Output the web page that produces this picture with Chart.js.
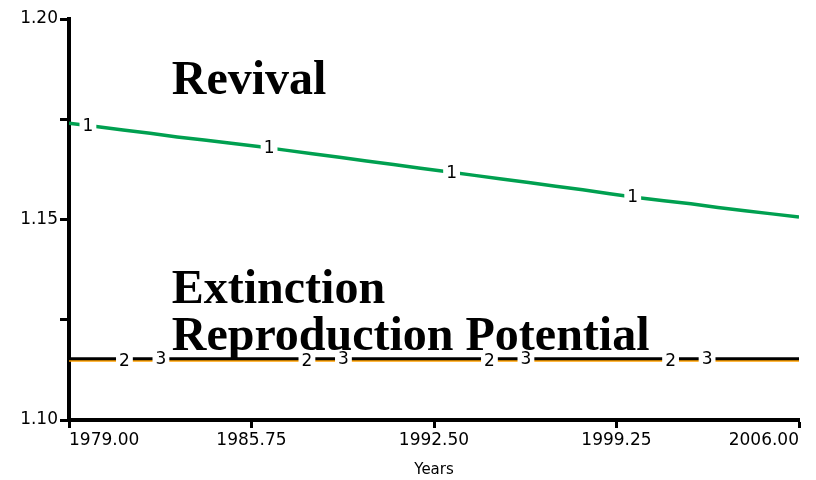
<!DOCTYPE html>
<html>
<head>
<meta charset="utf-8">
<script src="https://cdn.jsdelivr.net/npm/chart.js@4"></script>
<style>
    html, body { margin: 0; padding: 0; background: #fff; }
    #wrap { width: 816px; height: 480px; }
</style>
</head>
<body>
<div id="wrap"><canvas id="chart" width="816" height="480"></canvas></div>
<script>
// 年（x軸）
const years = [1979, 1980, 1981, 1982, 1983, 1984, 1985, 1986, 1987, 1988, 1989, 1990, 1991, 1992,
    1993, 1994, 1995, 1996, 1997, 1998, 1999, 2000, 2001, 2002, 2003, 2004, 2005, 2006];

// 1: Revival
const revival = [1.1740, 1.1732, 1.1723, 1.1715, 1.1706, 1.1698, 1.1690, 1.1682, 1.1673, 1.1664,
    1.1655, 1.1646, 1.1637, 1.1628, 1.1619, 1.1610, 1.1601, 1.1592, 1.1583, 1.1574,
    1.1564, 1.1555, 1.1547, 1.1539, 1.1530, 1.1522, 1.1514, 1.1506];
// 2: Extinction
const extinction = years.map(() => 1.1149);
// 3: Reproduction Potential
const reproduction = years.map(() => 1.1153);

// 線上の番号ラベルの位置（年）
const label1Years = [1979.7, 1986.4, 1993.15, 1999.85];
const label2Years = [1981.05, 1987.8, 1994.55, 2001.25];
const label3Years = [1982.4, 1989.15, 1995.9, 2002.6];

// 軸の目盛
const xTicks = [1979, 1985.75, 1992.5, 1999.25, 2006];
const yTicks = [1.10, 1.125, 1.15, 1.175, 1.20];
const yLabeled = [1.10, 1.15, 1.20];

// 注釈テキスト（データ座標）
const notes = [
    { text: 'Revival', x: 1982.8, y: 1.1813 },
    { text: 'Extinction', x: 1982.8, y: 1.1292 },
    { text: 'Reproduction Potential', x: 1982.8, y: 1.1175 }
];

const toPoints = arr => arr.map((v, i) => ({ x: years[i], y: v }));

function valueAt(data, x) {
    for (let i = 0; i < data.length - 1; i++) {
        if (x >= data[i].x && x <= data[i + 1].x) {
            const t = (x - data[i].x) / (data[i + 1].x - data[i].x);
            return data[i].y + t * (data[i + 1].y - data[i].y);
        }
    }
    return data[data.length - 1].y;
}

// 番号ラベル（白抜き）
const numberLabels = {
    id: 'numberLabels',
    afterDatasetsDraw(chart) {
        const ctx = chart.ctx;
        const xs = chart.scales.x, ys = chart.scales.y;
        ctx.save();
        ctx.font = '17px "DejaVu Sans"';
        ctx.textAlign = 'center';
        ctx.textBaseline = 'middle';
        chart.data.datasets.forEach(ds => {
            ds.labelYears.forEach(yr => {
                const px = xs.getPixelForValue(yr);
                const py = ys.getPixelForValue(valueAt(ds.data, yr));
                const w = ctx.measureText(ds.tag).width + 6;
                ctx.fillStyle = '#fff';
                ctx.fillRect(px - w / 2, py - 5, w, 10);
                ctx.fillStyle = '#000';
                ctx.fillText(ds.tag, px, py + 1);
            });
        });
        ctx.restore();
    }
};

// 注釈
const noteText = {
    id: 'noteText',
    afterDraw(chart) {
        const ctx = chart.ctx;
        const xs = chart.scales.x, ys = chart.scales.y;
        ctx.save();
        ctx.font = 'bold 48px "Liberation Serif"';
        ctx.fillStyle = '#000';
        ctx.textAlign = 'left';
        ctx.textBaseline = 'alphabetic';
        notes.forEach(n => {
            ctx.fillText(n.text, xs.getPixelForValue(n.x), ys.getPixelForValue(n.y));
        });
        ctx.restore();
    }
};

new Chart(document.getElementById('chart').getContext('2d'), {
    type: 'line',
    data: {
        datasets: [
            {
                tag: '3',
                labelYears: label3Years,
                data: toPoints(reproduction),
                borderColor: '#000000',
                borderWidth: 3,
                order: 0
            },
            {
                tag: '2',
                labelYears: label2Years,
                data: toPoints(extinction),
                borderColor: '#ffa000',
                borderWidth: 3,
                order: 1
            },
            {
                tag: '1',
                labelYears: label1Years,
                data: toPoints(revival),
                borderColor: '#00a050',
                borderWidth: 3.5,
                order: 2
            }
        ]
    },
    options: {
        responsive: false,
        animation: false,
        events: [],
        elements: {
            point: { radius: 0 },
            line: { tension: 0 }
        },
        layout: {
            padding: { top: 19, right: 17, left: 0, bottom: 0 }
        },
        plugins: {
            legend: { display: false },
            tooltip: { enabled: false }
        },
        scales: {
            x: {
                type: 'linear',
                min: 1979,
                max: 2006,
                afterBuildTicks: s => { s.ticks = xTicks.map(v => ({ value: v })); },
                afterFit: s => { s.height = 60; },
                border: { display: true, color: '#000', width: 4 },
                grid: { drawOnChartArea: false, drawTicks: true, tickLength: 8, tickWidth: 3, tickColor: '#000' },
                ticks: {
                    align: 'inner',
                    maxRotation: 0,
                    autoSkip: false,
                    padding: 2,
                    color: '#000',
                    font: { family: 'DejaVu Sans', size: 17 },
                    callback: v => Number(v).toFixed(2)
                },
                title: {
                    display: true,
                    text: 'Years',
                    color: '#000',
                    font: { family: 'DejaVu Sans', size: 15 },
                    padding: { top: 0, bottom: 1 }
                }
            },
            y: {
                min: 1.10,
                max: 1.20,
                afterBuildTicks: s => { s.ticks = yTicks.map(v => ({ value: v })); },
                afterFit: s => { s.width = 69; },
                border: { display: true, color: '#000', width: 4 },
                grid: { drawOnChartArea: false, drawTicks: true, tickLength: 9, tickWidth: 3, tickColor: '#000' },
                ticks: {
                    padding: 2,
                    color: '#000',
                    font: { family: 'DejaVu Sans', size: 17 },
                    callback: v => yLabeled.some(l => Math.abs(l - v) < 1e-9) ? Number(v).toFixed(2) : ''
                }
            }
        }
    },
    plugins: [numberLabels, noteText]
});
</script>
</body>
</html>
